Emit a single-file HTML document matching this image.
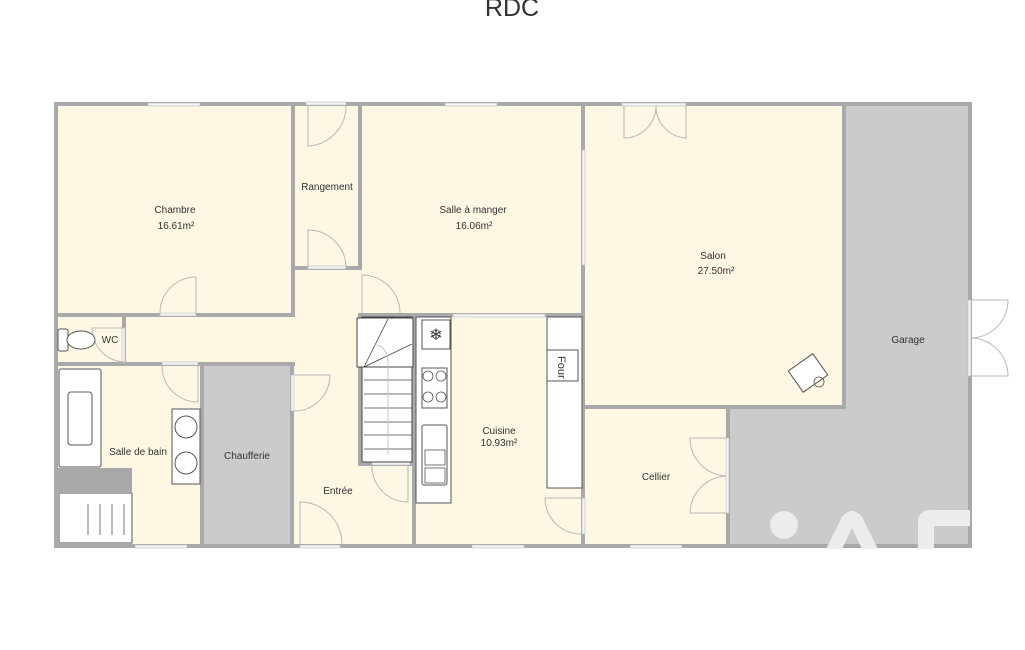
<!DOCTYPE html>
<html><head><meta charset="utf-8"><style>
html,body{margin:0;padding:0;background:#fff;}
svg{display:block;}
text{font-family:"Liberation Sans",sans-serif;fill:#333;}
</style></head><body>
<svg width="1025" height="650" viewBox="0 0 1025 650" xmlns="http://www.w3.org/2000/svg">
<text x="512" y="16" font-size="25" text-anchor="middle" fill="#111">RDC</text>
<!-- floors -->
<rect x="56" y="104" width="914" height="442" fill="#fdf7e3"/>
<rect x="204" y="366" width="88" height="180" fill="#cbcbcb"/>
<polygon points="844,104 970,104 970,546 728,546 728,407 844,407" fill="#cbcbcb"/>
<rect x="56" y="468" width="76" height="24" fill="#a8a8a8"/>
<!-- walls -->
<g fill="#a9a9a9">
<rect x="54" y="102" width="918" height="4"/>
<rect x="54" y="544" width="918" height="4"/>
<rect x="54" y="102" width="4" height="446"/>
<rect x="968" y="102" width="4" height="446"/>
<rect x="54" y="313" width="241" height="4"/>
<rect x="291" y="102" width="4" height="215"/>
<rect x="291" y="266" width="71" height="4"/>
<rect x="358" y="102" width="4" height="168"/>
<rect x="358" y="313" width="227" height="4"/>
<rect x="581" y="102" width="4" height="446"/>
<rect x="842" y="102" width="4" height="307"/>
<rect x="581" y="405" width="265" height="4"/>
<rect x="726" y="405" width="4" height="143"/>
<rect x="122" y="313" width="4" height="53"/>
<rect x="54" y="362" width="241" height="4"/>
<rect x="200" y="362" width="4" height="186"/>
<rect x="290" y="362" width="4" height="186"/>
<rect x="412" y="313" width="4" height="235"/>
<rect x="358" y="313" width="4" height="153"/>
<rect x="358" y="462" width="56" height="4"/>
</g>
<!-- watermark -->
<g fill="#ececec">
<circle cx="784" cy="525" r="14"/>
<path d="M826 549 L842 517 Q852 505 862 517 L878 549 L862 549 L852 528 L842 549 Z"/>
<path d="M918 549 L918 522 Q918 510 932 510 L970 510 L970 526 L934 526 L934 549 Z"/>
</g>
<!-- windows -->
<g fill="#f4f4f4" stroke="#bbb" stroke-width="0.6">
<rect x="148" y="103" width="52" height="3"/>
<rect x="445" y="103" width="52" height="3"/>
<rect x="622" y="103" width="64" height="3"/>
<rect x="135" y="545" width="52" height="3"/>
<rect x="300" y="545" width="40" height="3"/>
<rect x="472" y="545" width="52" height="3"/>
<rect x="630" y="545" width="52" height="3"/>
<rect x="453" y="314" width="92" height="3"/>
<rect x="582" y="150" width="3" height="115"/>
<rect x="968" y="300" width="3" height="76"/>
<rect x="160" y="313" width="36" height="3"/>
<rect x="306" y="102" width="40" height="3"/>
<rect x="308" y="266" width="38" height="3"/>
<rect x="122" y="328" width="3" height="34"/>
<rect x="162" y="362" width="36" height="3"/>
<rect x="291" y="375" width="3" height="36"/>
<rect x="372" y="462" width="38" height="3"/>
<rect x="582" y="498" width="3" height="36"/>
<rect x="726" y="438" width="3" height="75"/>
</g>
<!-- doors -->
<g fill="none" stroke="#b8b8b8" stroke-width="1">
<path d="M196 313 L196 277 A36 36 0 0 0 160 313"/>
<path d="M308 106 L308 146 A40 40 0 0 0 346 106"/>
<path d="M308 266 L308 230 A38 38 0 0 1 346 266"/>
<path d="M362 313 L362 275 A38 38 0 0 1 400 313"/>
<path d="M624 106 L624 138 A32 32 0 0 0 656 106 A32 32 0 0 0 686 138 L686 106"/>
<path d="M124 328 L92 328 A34 34 0 0 0 124 362"/>
<path d="M198 366 L198 402 A36 36 0 0 1 162 366"/>
<path d="M294 375 L330 375 A36 36 0 0 1 294 411"/>
<path d="M408 466 L408 502 A36 36 0 0 1 372 466"/>
<path d="M300 544 L300 502 A42 42 0 0 1 342 544"/>
<path d="M581 498 L545 498 A36 36 0 0 0 581 534"/>
<path d="M726 438 L690 438 A38 38 0 0 0 726 476 A38 38 0 0 0 690 513 L726 513"/>
<path d="M972 300 L1008 300 A38 38 0 0 1 972 338 A38 38 0 0 1 1008 376 L972 376"/>
</g>
<!-- stairs -->
<g fill="#fff" stroke="#444" stroke-width="1">
<rect x="362" y="317" width="50" height="145"/>
<rect x="357" y="318" width="56" height="49"/>
</g>
<g stroke="#444" stroke-width="0.8">
<line x1="364" y1="367" x2="388" y2="319"/><line x1="364" y1="367" x2="412" y2="344"/>
<line x1="364" y1="380" x2="412" y2="380"/><line x1="364" y1="394" x2="412" y2="394"/>
<line x1="364" y1="408" x2="412" y2="408"/><line x1="364" y1="422" x2="412" y2="422"/>
<line x1="364" y1="435" x2="412" y2="435"/><line x1="364" y1="449" x2="412" y2="449"/>
</g>
<path d="M374 345 Q388 345 388 365 L388 455" fill="none" stroke="#bbb" stroke-width="0.8"/>
<!-- kitchen -->
<g fill="#fff" stroke="#555" stroke-width="1">
<rect x="416" y="317" width="35" height="186"/>
<rect x="422" y="320" width="28" height="29"/>
<rect x="422" y="368" width="25" height="40"/>
<rect x="422" y="425" width="25" height="60" rx="2"/>
<rect x="547" y="317" width="35" height="171"/>
<rect x="547" y="350" width="31" height="31"/>
<rect x="793" y="360" width="30" height="26" transform="rotate(-35 808 373)"/>
</g>
<text x="436" y="340" font-size="16" text-anchor="middle" fill="#555">❄</text>
<g fill="none" stroke="#555" stroke-width="0.8">
<circle cx="428" cy="376" r="5"/><circle cx="441" cy="376" r="5"/><circle cx="428" cy="397" r="5"/><circle cx="441" cy="397" r="5"/>
<rect x="425" y="450" width="20" height="15"/><rect x="425" y="468" width="20" height="15"/>
<circle cx="819" cy="382" r="5"/>
</g>
<text x="0" y="0" font-size="11" transform="translate(558 356) rotate(90)" fill="#222">Four</text>
<!-- bathroom -->
<g fill="#fff" stroke="#555" stroke-width="1">
<rect x="59" y="369" width="42" height="98" rx="2"/>
<rect x="68" y="392" width="24" height="53" rx="3"/>
<rect x="59" y="493" width="73" height="50"/>
<rect x="172" y="409" width="28" height="75"/>
<circle cx="186" cy="427" r="11"/><circle cx="186" cy="463" r="11"/>
<rect x="58" y="329" width="10" height="22" rx="2"/>
<ellipse cx="81" cy="340" rx="14" ry="9"/>
</g>
<g stroke="#555" stroke-width="0.8">
<line x1="88" y1="504" x2="88" y2="535"/><line x1="100" y1="504" x2="100" y2="535"/><line x1="112" y1="504" x2="112" y2="535"/><line x1="124" y1="504" x2="124" y2="535"/>
</g>
<!-- labels -->
<g font-size="10" text-anchor="middle">
<text x="175" y="213">Chambre</text><text x="176" y="229">16.61m²</text>
<text x="327" y="190">Rangement</text>
<text x="473" y="213">Salle à manger</text><text x="474" y="229">16.06m²</text>
<text x="713" y="259">Salon</text><text x="716" y="274">27.50m²</text>
<text x="908" y="343">Garage</text>
<text x="110" y="343">WC</text>
<text x="138" y="455">Salle de bain</text>
<text x="247" y="459">Chaufferie</text>
<text x="338" y="494">Entrée</text>
<text x="499" y="434">Cuisine</text><text x="499" y="446">10.93m²</text>
<text x="656" y="480">Cellier</text>
</g>
</svg>
</body></html>
